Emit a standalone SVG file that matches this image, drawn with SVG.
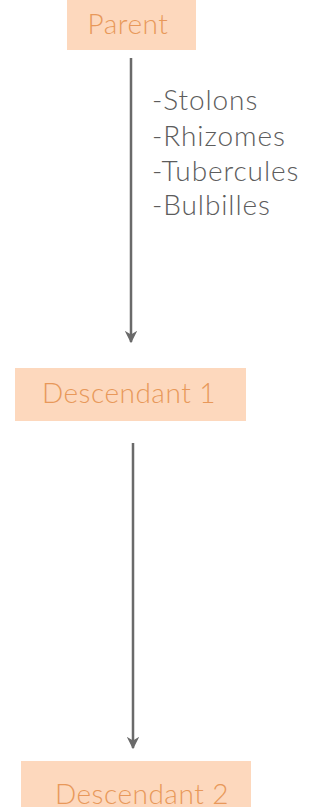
<svg xmlns="http://www.w3.org/2000/svg" width="321" height="807" viewBox="0 0 321 807">
<defs>
<style>
.box{fill:#fdd8bd}
.lbl{font-family:Lato,"Open Sans","DejaVu Sans",sans-serif;font-weight:300;font-size:28px;fill:#e8985a;text-anchor:middle;letter-spacing:0.5px}
.note{font-family:Lato,"Open Sans","DejaVu Sans",sans-serif;font-weight:300;font-size:28px;fill:#5c5c5c;letter-spacing:0.9px}
.edge{stroke:#6a6a6a;stroke-width:2.5;fill:none}
</style>
<marker id="arr" viewBox="0 0 10 10" refX="9" refY="5" markerWidth="5" markerHeight="5" orient="auto" markerUnits="strokeWidth">
<path d="M0,0 L10,5 L0,10 L3,5 z" fill="#6a6a6a"/>
</marker>
</defs>
<g id="connectors">
<line class="edge" x1="131" y1="58" x2="131" y2="342" marker-end="url(#arr)"/>
<line class="edge" x1="133" y1="443" x2="133" y2="748" marker-end="url(#arr)"/>
</g>
<g id="note">
<text class="note" x="152" y="110">-Stolons</text>
<text class="note" x="152" y="146">-Rhizomes</text>
<text class="note" x="152" y="181">-Tubercules</text>
<text class="note" x="152" y="215">-Bulbilles</text>
</g>
<g id="parent">
<rect class="box" x="67" y="0" width="129" height="50"/>
<text class="lbl" x="128" y="34">Parent</text>
</g>
<g id="descendant1">
<rect class="box" x="15" y="368" width="231" height="53"/>
<text class="lbl" x="129" y="403">Descendant 1</text>
</g>
<g id="descendant2">
<rect class="box" x="21" y="761" width="230" height="46"/>
<text class="lbl" x="142" y="804">Descendant 2</text>
</g>
</svg>
